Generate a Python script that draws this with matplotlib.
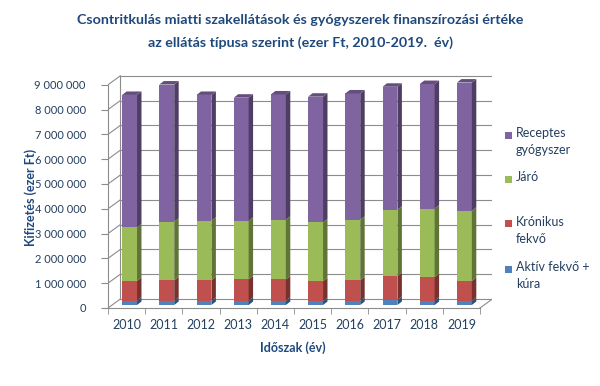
import numpy as np
import matplotlib.pyplot as plt
from matplotlib.patches import Polygon, Rectangle
from matplotlib import colors

years = ['2010', '2011', '2012', '2013', '2014', '2015', '2016', '2017', '2018', '2019']
# ezer Ft
aktiv = [180, 170, 170, 170, 170, 160, 170, 200, 180, 170]
kronikus = [790, 830, 830, 860, 860, 800, 830, 970, 950, 800]
jaro = [2160, 2360, 2400, 2370, 2410, 2370, 2440, 2670, 2760, 2830]
receptes = [5340, 5530, 5070, 4960, 5050, 5070, 5090, 4960, 5020, 5170]

series = [aktiv, kronikus, jaro, receptes]
names = ['Aktív fekvő +\nkúra', 'Krónikus\nfekvő', 'Járó', 'Receptes\ngyógyszer']
cols = ['#4F81BD', '#C0504D', '#9BBB59', '#8064A2']

plt.rcParams['font.family'] = ['Lato', 'DejaVu Sans']
title_col = '#1F497D'
txt_col = '#243F60'
grid_col = '#8C8C8C'

fig = plt.figure(figsize=(6, 3.86), dpi=100)
ax = fig.add_axes([0.18, 0.2021, 0.6405, 0.6104])

# 3d-ish wall offsets
dx, dy = 0.33, 0.36e6
xmin, xmax = -0.5, 9.5
ax.set_xlim(xmin, xmax + dx)
ax.set_ylim(0, 9.5e6)

# back wall + side wall grid
for v in range(0, 9000001, 1000000):
    ax.plot([xmin + dx, xmax + dx], [v + dy, v + dy], color=grid_col, lw=0.8, zorder=1)
    ax.plot([xmin, xmin + dx], [v, v + dy], color=grid_col, lw=0.8, zorder=1)
ax.plot([xmin + dx, xmin + dx], [dy, 9e6 + dy], color=grid_col, lw=0.8, zorder=1)
ax.plot([xmax, xmax + dx], [0, dy], color=grid_col, lw=0.8, zorder=1)

# bars
x = np.arange(len(years))
bx, by = 0.08, 0.12e6
w = 0.4
ddx, ddy = 0.12, 0.14e6
cum = np.zeros(len(years))
for k, s in enumerate(series):
    vals = np.array(s) * 1000.0
    base = colors.to_rgb(cols[k])
    side = tuple(c * 0.62 for c in base)
    top = tuple(c * 0.78 for c in base)
    ax.bar(x + bx, vals, width=w, bottom=cum + by, color=cols[k], zorder=3, linewidth=0)
    for i in range(len(years)):
        c = x[i] + bx
        b = cum[i] + by
        t = cum[i] + vals[i] + by
        ax.add_patch(Polygon([(c + w / 2, b), (c + w / 2 + ddx, b + ddy), (c + w / 2 + ddx, t + ddy), (c + w / 2, t)],
                             closed=True, facecolor=side, edgecolor='none', zorder=3))
        if k == len(series) - 1:
            ax.add_patch(Polygon([(c - w / 2, t), (c - w / 2 + ddx, t + ddy), (c + w / 2 + ddx, t + ddy), (c + w / 2, t)],
                                 closed=True, facecolor=top, edgecolor='none', zorder=3))
    cum = cum + vals

# axes
for sp in ['top', 'right']:
    ax.spines[sp].set_visible(False)
ax.spines['left'].set_bounds(0, 9e6)
ax.spines['bottom'].set_bounds(xmin, xmax)
ax.spines['left'].set_color(grid_col)
ax.spines['bottom'].set_color(grid_col)
yt = np.arange(0, 9000001, 1000000)
ax.set_yticks(yt)
ax.set_yticklabels([f'{int(v):,}'.replace(',', ' ') for v in yt], fontsize=8, color=txt_col)
ax.set_xticks(x)
ax.set_xticklabels(years, fontsize=9, color=txt_col)
ax.set_xticks(np.arange(xmin, xmax + 0.01, 1), minor=True)
ax.tick_params(axis='x', which='major', length=0, pad=8)
ax.tick_params(axis='x', which='minor', length=4, color=grid_col)
ax.tick_params(axis='y', length=5, color=grid_col, pad=11)

ax.set_ylabel('Kifizetés (ezer Ft)', fontsize=9, fontweight='bold', color=title_col, va='center')
ax.yaxis.set_label_coords(-0.2, 0.471)
ax.set_xlabel('Időszak (év)', fontsize=9, fontweight='bold', color=title_col)
ax.xaxis.set_label_coords(0.481, -0.14)

fig.text(0.5, 0.948, 'Csontritkulás miatti szakellátások és gyógyszerek finanszírozási értéke',
         ha='center', va='center', fontsize=10.3, fontweight='bold', color=title_col)
fig.text(0.5, 0.890, 'az ellátás típusa szerint (ezer Ft, 2010-2019.  év)',
         ha='center', va='center', fontsize=10.3, fontweight='bold', color=title_col)

# legend
leg_y = [269, 224, 179, 135]
for k in range(len(series)):
    yy = 1 - leg_y[k] / 386
    fig.add_artist(Rectangle((505 / 600, yy - 3.5 / 386), 7 / 600, 7 / 386, facecolor=cols[k], edgecolor='none'))
    fig.text(516 / 600, yy + 8 / 386, names[k], ha='left', va='top', fontsize=9, color=txt_col, linespacing=1.5)

fig.savefig('out.png', dpi=100)
